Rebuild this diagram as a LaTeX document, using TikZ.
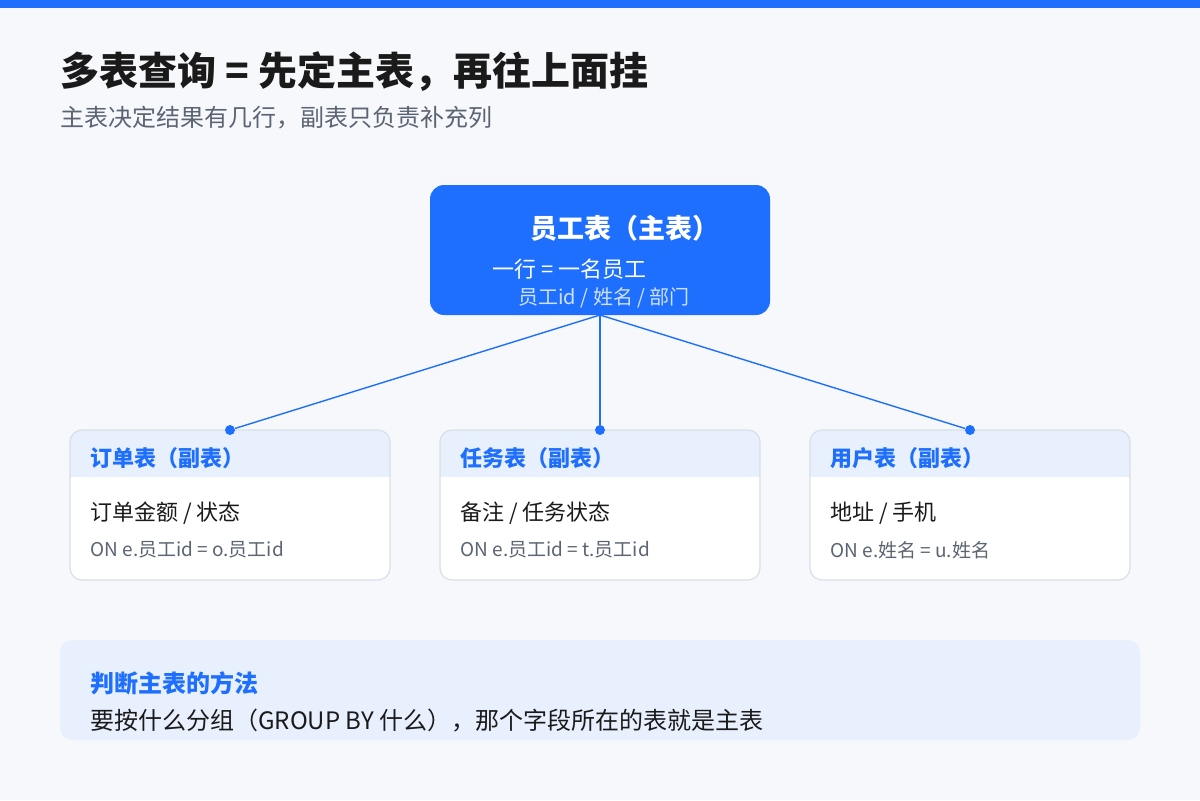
\documentclass[tikz,border=0pt]{standalone}
\usepackage{fontspec}
\setmainfont{Noto Sans CJK SC}
\usetikzlibrary{positioning}
\definecolor{mainblue}{HTML}{1F6FFF}
\definecolor{bgcol}{HTML}{F6F8FC}
\definecolor{headcol}{HTML}{E8F0FE}
\definecolor{edgecol}{HTML}{D9DEE8}
\definecolor{graytxt}{HTML}{5B6472}
\definecolor{darktxt}{HTML}{1A1A1A}
\definecolor{lightblue}{HTML}{CFE0FF}
\begin{document}
\begin{tikzpicture}[
      x=0.5pt, y=-0.5pt,
      mytext/.style={anchor=west, inner sep=0pt},
      myhead/.style={mytext, text=mainblue, font=\fontsize{11}{13}\selectfont\bfseries},
      myline/.style={mytext, text=darktxt, font=\fontsize{11}{13}\selectfont},
      mysub/.style={mytext, text=graytxt, font=\fontsize{9.5}{11}\selectfont},
      mylink/.style={draw=mainblue, line width=0.7pt},
      mydot/.style={circle, fill=mainblue, inner sep=0pt, minimum size=5pt}
      ]
\useasboundingbox (0,0) rectangle (1200,800);
\fill[bgcol] (0,0) rectangle (1200,800);
\fill[mainblue] (0,0) rectangle (1200,8);

\node[mytext, text=darktxt, font=\fontsize{19.5}{22}\selectfont\bfseries] (title) at (60,72) {多表查询 = 先定主表，再往上面挂};
\node[mytext, text=graytxt, font=\fontsize{12}{14}\selectfont] (subtitle) at (60,118) {主表决定结果有几行，副表只负责补充列};

% main table
\fill[mainblue, rounded corners=7pt] (430,185) rectangle (770,315);
\node[mytext, text=white, font=\fontsize{13.5}{16}\selectfont\bfseries] (emp) at (530,228) {员工表（主表）};
\node[mytext, text=white, font=\fontsize{11}{13}\selectfont] (emprow) at (492,269) {一行 = 一名员工};
\node[mytext, text=lightblue, font=\fontsize{10}{12}\selectfont] (empcols) at (518,298) {员工id / 姓名 / 部门};
\coordinate (root) at (600,315);

% side tables
\foreach \x/\n/\h/\a/\b in {
      70/order/{订单表（副表）}/{订单金额 / 状态}/{ON e.员工id = o.员工id},
      440/task/{任务表（副表）}/{备注 / 任务状态}/{ON e.员工id = t.员工id},
      810/user/{用户表（副表）}/{地址 / 手机}/{ON e.姓名 = u.姓名}}{
   \fill[white, rounded corners=6pt] (\x,430) rectangle ++(320,150);
   \fill[headcol, rounded corners=6pt] (\x,430) rectangle ++(320,47);
   \fill[headcol] (\x,460) rectangle ++(320,17);
   \draw[edgecol, rounded corners=6pt, line width=0.6pt] (\x,430) rectangle ++(320,150);
   \node[myhead] (\n head) at (\x+20,458) {\h};
   \node[myline] (\n cols) at (\x+20,513) {\a};
   \node[mysub] (\n on) at (\x+20,550) {\b};
   \node[mydot] (\n dot) at (\x+160,430) {};
   \draw[mylink] (root) -- (\n dot);
}

% hint
\fill[headcol, rounded corners=6pt] (60,640) rectangle (1140,740);
\node[myhead, font=\fontsize{12}{14}\selectfont\bfseries] (hint) at (90,683) {判断主表的方法};
\node[myline, font=\fontsize{12}{14}\selectfont] (hinttext) at (90,720) {要按什么分组（GROUP BY 什么），那个字段所在的表就是主表};
\end{tikzpicture}
\end{document}
